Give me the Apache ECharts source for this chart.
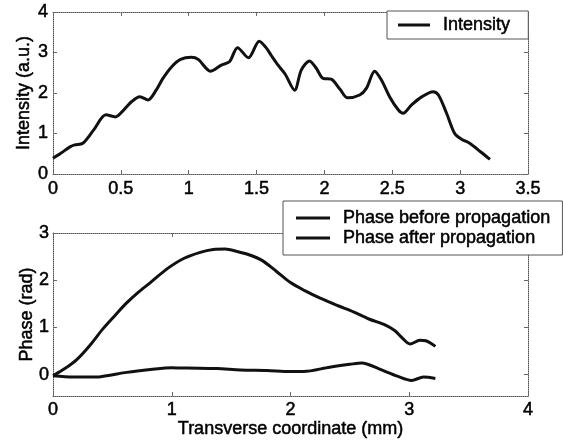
<!DOCTYPE html>
<html>
<head>
<meta charset="utf-8">
<script src="https://cdn.jsdelivr.net/npm/echarts@6/dist/echarts.min.js"></script>
<style>
html,body{margin:0;padding:0;background:#fff;}
#c{width:563px;height:442px;}
</style>
</head>
<body>
<div id="c"></div>
<script>
// ---- data ----
var intensityX = [0.00,0.06,0.125,0.16,0.22,0.30,0.39,0.46,0.51,0.58,0.64,0.70,0.76,0.81,0.875,0.94,1.02,1.07,1.16,1.24,1.30,1.36,1.44,1.52,1.57,1.61,1.66,1.71,1.78,1.83,1.89,1.94,1.99,2.05,2.115,2.17,2.26,2.31,2.37,2.42,2.48,2.545,2.58,2.64,2.72,2.80,2.84,2.90,2.96,3.01,3.07,3.15,3.22];
var intensityY = [0.39,0.52,0.67,0.72,0.76,1.09,1.46,1.41,1.54,1.79,1.91,1.83,2.07,2.36,2.65,2.83,2.88,2.83,2.54,2.69,2.77,3.12,2.87,3.28,3.12,2.92,2.68,2.47,2.07,2.57,2.79,2.61,2.36,2.34,2.09,1.88,1.95,2.12,2.54,2.32,1.91,1.58,1.50,1.70,1.91,2.03,1.95,1.50,1.00,0.86,0.76,0.55,0.36];

var phaseAfterX = [0.00,0.10,0.20,0.31,0.42,0.52,0.62,0.72,0.82,0.96,1.10,1.24,1.35,1.45,1.55,1.65,1.76,1.88,2.00,2.12,2.25,2.40,2.53,2.66,2.80,2.88,2.94,3.006,3.09,3.14,3.22];
var phaseAfterY = [-0.02,0.13,0.32,0.62,0.97,1.25,1.52,1.75,1.95,2.24,2.46,2.59,2.65,2.66,2.61,2.54,2.42,2.19,1.95,1.78,1.62,1.46,1.33,1.18,1.05,0.93,0.78,0.65,0.73,0.72,0.60];

var phaseBeforeX = [0.00,0.17,0.37,0.48,0.62,0.82,1.00,1.13,1.38,1.58,1.80,2.00,2.11,2.33,2.50,2.60,2.75,2.90,3.02,3.12,3.22];
var phaseBeforeY = [-0.02,-0.05,-0.05,-0.01,0.05,0.11,0.15,0.14,0.13,0.10,0.09,0.07,0.07,0.16,0.22,0.25,0.12,-0.03,-0.12,-0.05,-0.08];

var topXTicks = [0,0.5,1,1.5,2,2.5,3,3.5];
var topYTicks = [0,1,2,3,4];
var botXTicks = [0,1,2,3,4];
var botYTicks = [0,1,2,3];

var nameIntensity = 'Intensity';
var nameBefore = 'Phase before propagation';
var nameAfter = 'Phase after propagation';

function pairs(xs, ys){ return xs.map(function(x,i){ return [x, ys[i]]; }); }

var FONT = 'Liberation Sans, Arial, sans-serif';
var frame = {lineStyle:{color:'#555', width:1, type:'dotted'}};
var tick = {show:true, inside:true, length:4, lineStyle:{color:'#666', width:1}};
var txt = {color:'#000', fontFamily:FONT, fontSize:18, textBorderColor:'#000', textBorderWidth:0.5};
var lab = Object.assign({}, txt);

var chart = echarts.init(document.getElementById('c'), null, {renderer:'canvas'});
chart.setOption({
  animation:false,
  backgroundColor:'#fff',
  grid:[
    {left:53, top:12, width:475, height:162, show:false},
    {left:53, top:233, width:475, height:163, show:false}
  ],
  xAxis:[
    {gridIndex:0, type:'value', min:0, max:3.5, position:'bottom',
     axisLine:{show:true, onZero:false, lineStyle:frame.lineStyle},
     axisTick:Object.assign({customValues:topXTicks}, tick),
     axisLabel:Object.assign({customValues:topXTicks, margin:6}, lab),
     splitLine:{show:false}},
    {gridIndex:0, type:'value', min:0, max:3.5, position:'top',
     axisLine:{show:true, onZero:false, lineStyle:frame.lineStyle},
     axisTick:Object.assign({customValues:topXTicks}, tick),
     axisLabel:{show:false}, splitLine:{show:false}},
    {gridIndex:1, type:'value', min:0, max:4, position:'bottom',
     name:'Transverse coordinate (mm)', nameLocation:'middle', nameGap:23,
     nameTextStyle:Object.assign({}, txt),
     axisLine:{show:true, onZero:false, lineStyle:frame.lineStyle},
     axisTick:Object.assign({customValues:botXTicks}, tick),
     axisLabel:Object.assign({customValues:botXTicks, margin:5}, lab),
     splitLine:{show:false}},
    {gridIndex:1, type:'value', min:0, max:4, position:'top',
     axisLine:{show:true, onZero:false, lineStyle:frame.lineStyle},
     axisTick:Object.assign({customValues:botXTicks}, tick),
     axisLabel:{show:false}, splitLine:{show:false}}
  ],
  yAxis:[
    {gridIndex:0, type:'value', min:0, max:4, position:'left',
     name:'Intensity (a.u.)', nameLocation:'middle', nameGap:20, nameMoveOverlap:false,
     nameTextStyle:Object.assign({}, txt),
     axisLine:{show:true, onZero:false, lineStyle:frame.lineStyle},
     axisTick:Object.assign({customValues:topYTicks}, tick),
     axisLabel:Object.assign({customValues:topYTicks, margin:5}, lab),
     splitLine:{show:false}},
    {gridIndex:0, type:'value', min:0, max:4, position:'right',
     axisLine:{show:true, onZero:false, lineStyle:frame.lineStyle},
     axisTick:Object.assign({customValues:topYTicks}, tick),
     axisLabel:{show:false}, splitLine:{show:false}},
    {gridIndex:1, type:'value', min:-0.45, max:3, position:'left',
     name:'Phase (rad)', nameLocation:'middle', nameGap:17, nameMoveOverlap:false,
     nameTextStyle:Object.assign({}, txt),
     axisLine:{show:true, onZero:false, lineStyle:frame.lineStyle},
     axisTick:Object.assign({customValues:botYTicks}, tick),
     axisLabel:Object.assign({customValues:botYTicks, margin:4}, lab),
     splitLine:{show:false}},
    {gridIndex:1, type:'value', min:-0.45, max:3, position:'right',
     axisLine:{show:true, onZero:false, lineStyle:frame.lineStyle},
     axisTick:Object.assign({customValues:botYTicks}, tick),
     axisLabel:{show:false}, splitLine:{show:false}}
  ],
  legend:[
    {data:[nameIntensity], left:387, top:11, orient:'vertical',
     icon:'rect', itemWidth:32, itemHeight:3, itemGap:0,
     padding:[4,18,4,11],
     backgroundColor:'#fff', borderColor:'#555', borderWidth:1,
     textStyle:Object.assign({padding:[0,0,0,8], lineHeight:20}, txt),
     selectedMode:false},
    {data:[nameBefore, nameAfter], left:283, top:201, orient:'vertical',
     icon:'rect', itemWidth:34, itemHeight:3, itemGap:0,
     padding:[7,12,7,13],
     backgroundColor:'#fff', borderColor:'#555', borderWidth:1,
     textStyle:Object.assign({padding:[0,0,0,8], lineHeight:20}, txt),
     selectedMode:false}
  ],
  series:[
    {name:nameIntensity, type:'line', xAxisIndex:0, yAxisIndex:0, data:pairs(intensityX, intensityY),
     smooth:0.3, showSymbol:false, symbol:'none', lineStyle:{color:'#111', width:3}, itemStyle:{color:'#111'}, z:3},
    {name:nameBefore, type:'line', xAxisIndex:2, yAxisIndex:2, data:pairs(phaseBeforeX, phaseBeforeY),
     smooth:0.3, showSymbol:false, symbol:'none', lineStyle:{color:'#111', width:3}, itemStyle:{color:'#111'}, z:3},
    {name:nameAfter, type:'line', xAxisIndex:2, yAxisIndex:2, data:pairs(phaseAfterX, phaseAfterY),
     smooth:0.3, showSymbol:false, symbol:'none', lineStyle:{color:'#111', width:3}, itemStyle:{color:'#111'}, z:3}
  ]
});
</script>
</body>
</html>
